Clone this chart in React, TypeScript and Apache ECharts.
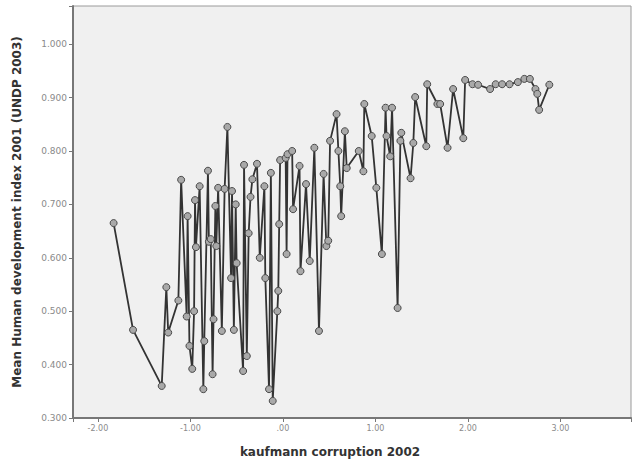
import React, { useEffect, useRef } from "react";
import * as echarts from "echarts";

// kaufmann corruption 2002 (x) and Mean HDI 2001 (y), sorted by x
const corruption: number[] = [
  -1.83, -1.62, -1.31, -1.26, -1.24, -1.13, -1.1, -1.04, -1.03, -1.01,
  -0.98, -0.96, -0.95, -0.94, -0.9, -0.86, -0.85, -0.81, -0.8, -0.78,
  -0.76, -0.75, -0.73, -0.72, -0.7, -0.66, -0.63, -0.6, -0.56, -0.55,
  -0.53, -0.51, -0.5, -0.43, -0.42, -0.39, -0.37, -0.35, -0.33, -0.28,
  -0.25, -0.2, -0.19, -0.15, -0.13, -0.11, -0.06, -0.05, -0.04, -0.03,
  0.03, 0.04, 0.05, 0.1, 0.11, 0.18, 0.19, 0.25, 0.29, 0.34,
  0.39, 0.44, 0.47, 0.49, 0.51, 0.58, 0.6, 0.62, 0.63, 0.67,
  0.69, 0.82, 0.87, 0.88, 0.96, 1.01, 1.07, 1.11, 1.12, 1.16,
  1.18, 1.24, 1.27, 1.28, 1.38, 1.41, 1.43, 1.55, 1.56, 1.67,
  1.7, 1.78, 1.84, 1.95, 1.97, 2.05, 2.11, 2.24, 2.3, 2.37,
  2.45, 2.54, 2.61, 2.67, 2.73, 2.75, 2.77, 2.88,
];
const hdi: number[] = [
  0.665, 0.465, 0.36, 0.545, 0.46, 0.52, 0.746, 0.49, 0.678, 0.435,
  0.392, 0.5, 0.708, 0.62, 0.734, 0.354, 0.444, 0.763, 0.63, 0.635,
  0.382, 0.485, 0.697, 0.622, 0.731, 0.463, 0.729, 0.845, 0.562, 0.725,
  0.465, 0.7, 0.59, 0.388, 0.774, 0.416, 0.646, 0.714, 0.747, 0.776,
  0.6, 0.734, 0.562, 0.354, 0.759, 0.332, 0.5, 0.538, 0.663, 0.783,
  0.787, 0.607, 0.794, 0.8, 0.691, 0.772, 0.575, 0.738, 0.594, 0.806,
  0.463, 0.757, 0.622, 0.632, 0.819, 0.869, 0.8, 0.734, 0.678, 0.837,
  0.768, 0.8, 0.762, 0.888, 0.828, 0.731, 0.607, 0.881, 0.828, 0.79,
  0.881, 0.506, 0.819, 0.834, 0.749, 0.815, 0.901, 0.809, 0.925, 0.888,
  0.888, 0.806, 0.916, 0.824, 0.933, 0.925, 0.924, 0.916, 0.925, 0.925,
  0.925, 0.929, 0.935, 0.935, 0.916, 0.907, 0.877, 0.924,
];

const xTitle = "kaufmann corruption 2002";
const yTitle = "Mean Human development index 2001 (UNDP 2003)";

export default function App() {
  const ref = useRef<HTMLDivElement>(null);
  useEffect(() => {
    if (!ref.current) return;
    const chart = echarts.init(ref.current, undefined, { renderer: "svg" });
    const data = corruption.map((x, i) => [x, hdi[i]]);
    chart.setOption({
      animation: false,
      backgroundColor: "#ffffff",
      grid: {
        left: 73,
        right: 0,
        top: 6,
        bottom: 47,
        show: true,
        backgroundColor: "#f0f0f0",
        borderColor: "#9a9a9a",
        borderWidth: 1,
      },
      xAxis: {
        type: "value",
        min: -2.269,
        max: 3.763,
        minInterval: 1,
        maxInterval: 1,
        axisLine: { show: true, onZero: false, lineStyle: { color: "#777", width: 2 } },
        axisTick: { show: true, length: 4, lineStyle: { color: "#777" } },
        splitLine: { show: false },
        axisLabel: {
          color: "#8a8a8a",
          fontSize: 8,
          fontFamily: "DejaVu Sans",
          margin: 6,
          formatter: (v: number) => {
            if (Math.abs(v - Math.round(v)) > 1e-6) return "";
            const r = Math.round(v);
            if (r === 0) return ".00";
            return r.toFixed(2);
          },
        },
      },
      yAxis: {
        type: "value",
        min: 0.3,
        max: 1.0715,
        interval: 0.1,
        axisLine: { show: true, onZero: false, lineStyle: { color: "#777", width: 2 } },
        axisTick: { show: true, length: 4, lineStyle: { color: "#777" } },
        splitLine: { show: false },
        axisLabel: {
          color: "#8a8a8a",
          fontSize: 9,
          fontFamily: "DejaVu Sans",
          margin: 6,
          formatter: (v: number) => (v > 1.0001 ? "" : v.toFixed(3)),
        },
      },
      graphic: [
        {
          type: "text",
          x: 330,
          y: 452,
          style: {
            text: xTitle,
            fill: "#333",
            font: "bold 12px 'DejaVu Sans'",
            align: "center",
            verticalAlign: "middle",
          },
        },
        {
          type: "text",
          x: 17,
          y: 212,
          rotation: Math.PI / 2,
          style: {
            text: yTitle,
            fill: "#333",
            font: "bold 12px 'DejaVu Sans'",
            align: "center",
            verticalAlign: "middle",
          },
        },
      ],
      series: [
        {
          type: "line",
          data,
          symbol: "circle",
          symbolSize: 7,
          showAllSymbol: true,
          lineStyle: { color: "#333333", width: 1.8 },
          itemStyle: { color: "#a9a9a9", borderColor: "#4a4a4a", borderWidth: 1 },
        },
      ],
    });
    return () => chart.dispose();
  }, []);
  return (
    <div
      ref={ref}
      style={{ position: "fixed", left: 0, top: 0, width: 634, height: 465 }}
    />
  );
}
